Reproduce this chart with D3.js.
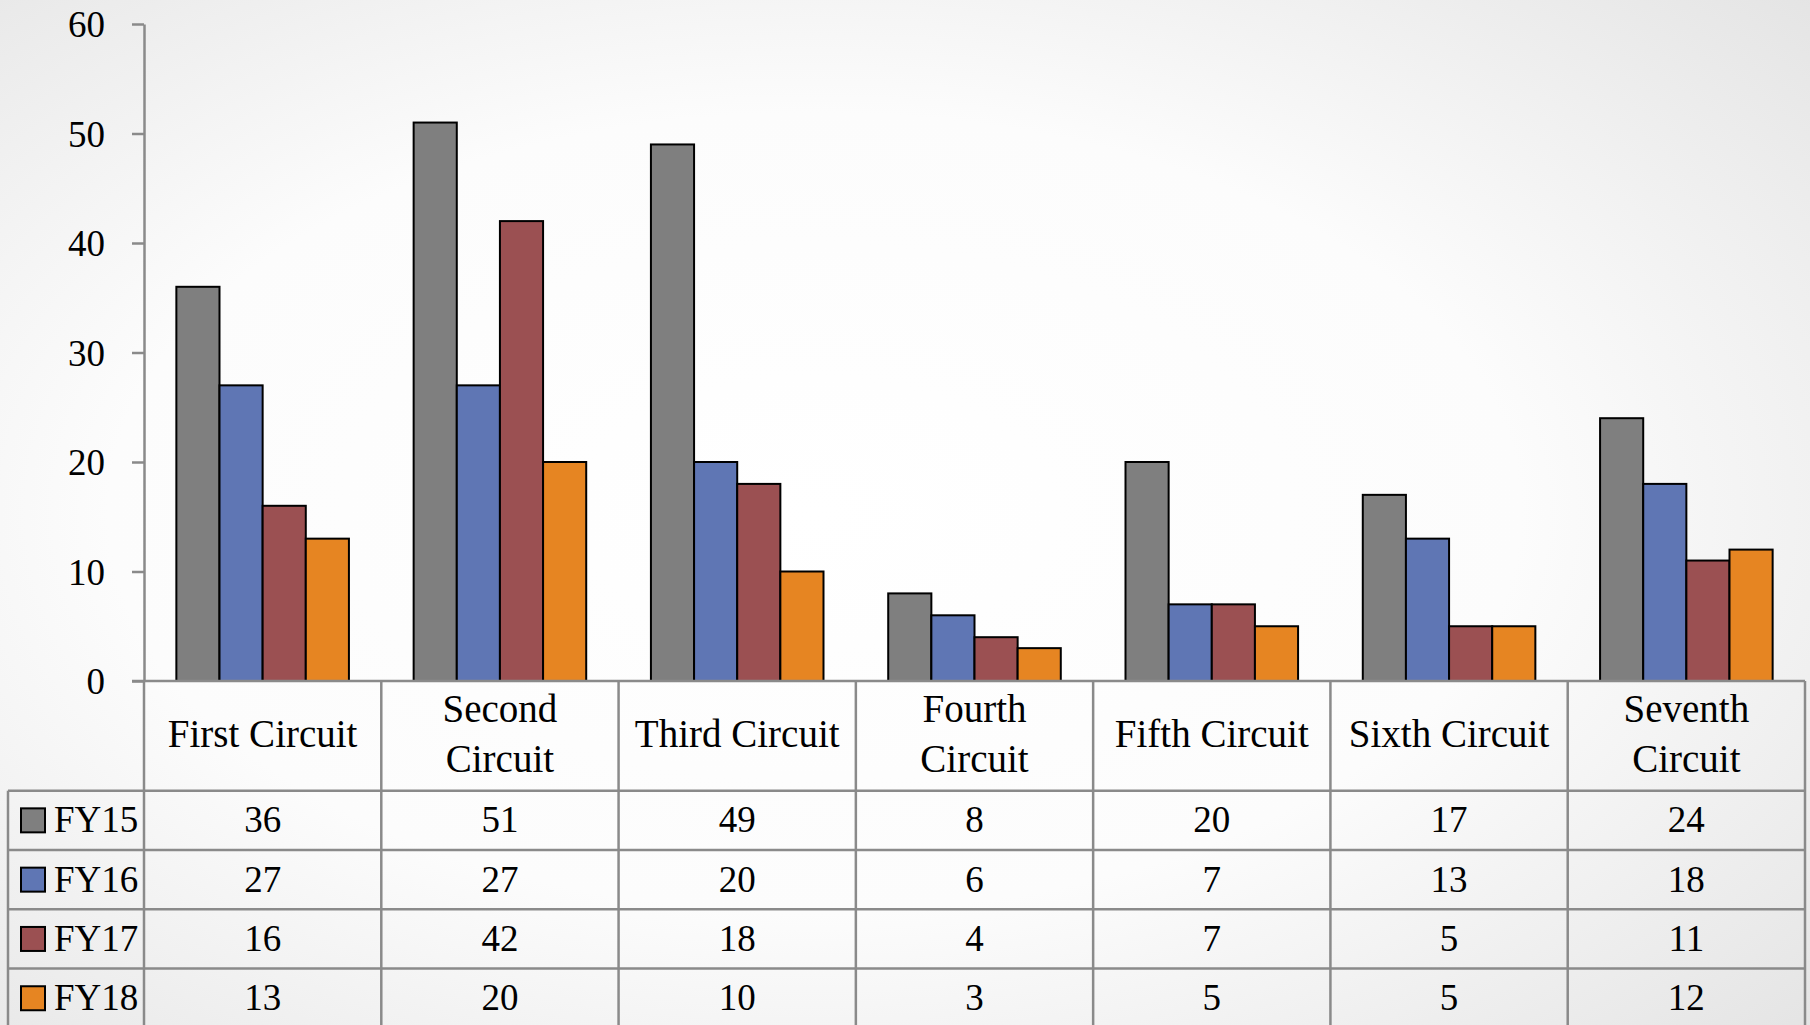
<!DOCTYPE html>
<html>
<head>
<meta charset="utf-8">
<script src="https://cdn.jsdelivr.net/npm/d3@7.9.0/dist/d3.min.js"></script>
<style>
  html, body { margin: 0; padding: 0; overflow: hidden; }
  svg { display: block; font-family: "Liberation Serif", "DejaVu Serif", serif; }
</style>
</head>
<body>
<div id="chart"></div>
<script>
// --- data ---
const categories = ['First Circuit', 'Second Circuit', 'Third Circuit', 'Fourth Circuit',
  'Fifth Circuit', 'Sixth Circuit', 'Seventh Circuit'];
// header text as it wraps in the table
const categoryLines = [
  ['First Circuit'], ['Second', 'Circuit'], ['Third Circuit'], ['Fourth', 'Circuit'],
  ['Fifth Circuit'], ['Sixth Circuit'], ['Seventh', 'Circuit'],
];
const seriesNames = ['FY15', 'FY16', 'FY17', 'FY18'];
const fy15 = [36, 51, 49, 8, 20, 17, 24];
const fy16 = [27, 27, 20, 6, 7, 13, 18];
const fy17 = [16, 42, 18, 4, 7, 5, 11];
const fy18 = [13, 20, 10, 3, 5, 5, 12];
const yTicks = [0, 10, 20, 30, 40, 50, 60];
const seriesColors = ['#7f7f7f', '#5f76b4', '#9b5052', '#e68522'];

const seriesValues = [fy15, fy16, fy17, fy18];

// --- layout ---
const width = 1810;
const height = 1025;
const plot = { left: 144, right: 1805, top: 24, bottom: 681 };
const rowH = 59.3;
const headerBottom = 790.7;
const legendLeft = 8;
const fontSize = 37;
const headerSize = 39;
const gridColor = '#8a8a8a';

const svg = d3.select('#chart')
  .append('svg')
  .attr('width', width)
  .attr('height', height);

// soft grey radial background
const defs = svg.append('defs');
const grad = defs.append('radialGradient')
  .attr('id', 'bg')
  .attr('cx', '45%').attr('cy', '50%').attr('r', '78%');
grad.append('stop').attr('offset', '0%').attr('stop-color', '#ffffff');
grad.append('stop').attr('offset', '50%').attr('stop-color', '#fcfcfc');
grad.append('stop').attr('offset', '100%').attr('stop-color', '#e2e2e2');
svg.append('rect').attr('width', width).attr('height', height).attr('fill', 'url(#bg)');

// --- scales ---
const xScale = d3.scaleBand()
  .domain(categories)
  .range([plot.left, plot.right])
  .paddingInner(0)
  .paddingOuter(0);

const xInner = d3.scaleBand()
  .domain(seriesNames)
  .range([0, xScale.bandwidth()])
  .paddingInner(0)
  .paddingOuter(0.75);

const yScale = d3.scaleLinear()
  .domain([0, 60])
  .range([plot.bottom, plot.top]);

// --- y axis ---
const yAxis = d3.axisLeft(yScale)
  .tickValues(yTicks)
  .tickSize(12)
  .tickPadding(27)
  .tickSizeOuter(0);

const yG = svg.append('g')
  .attr('transform', `translate(${plot.left}, 0)`)
  .call(yAxis);
yG.select('.domain').attr('stroke', gridColor).attr('stroke-width', 2.5);
yG.selectAll('.tick line').attr('stroke', gridColor).attr('stroke-width', 2.5);
yG.selectAll('.tick text')
  .attr('font-size', fontSize)
  .attr('font-family', '"Liberation Serif", serif')
  .attr('fill', '#000')
  .attr('dy', '0.34em');

// --- bars ---
const barData = categories.flatMap((c, i) =>
  seriesNames.map((s, j) => ({ cat: c, series: s, value: seriesValues[j][i], color: seriesColors[j] })));

svg.append('g')
  .attr('class', 'bars')
  .selectAll('rect')
  .data(barData)
  .join('rect')
  .attr('x', (d) => xScale(d.cat) + xInner(d.series))
  .attr('y', (d) => yScale(d.value))
  .attr('width', xInner.bandwidth())
  .attr('height', (d) => yScale(0) - yScale(d.value))
  .attr('fill', (d) => d.color)
  .attr('stroke', '#000')
  .attr('stroke-width', 2);

// --- data table under the plot ---
const table = svg.append('g').attr('class', 'table')
  .attr('stroke', gridColor).attr('stroke-width', 2.5);

const tableBottom = headerBottom + rowH * seriesNames.length;

// zero line / header top
table.append('line')
  .attr('x1', plot.left - 12).attr('x2', plot.right)
  .attr('y1', plot.bottom).attr('y2', plot.bottom);

// horizontal row lines
d3.range(seriesNames.length + 1).forEach((i) => {
  const y = headerBottom + rowH * i;
  table.append('line')
    .attr('x1', legendLeft).attr('x2', plot.right)
    .attr('y1', y).attr('y2', y);
});

// vertical lines at category boundaries
categories.forEach((c) => {
  table.append('line')
    .attr('x1', xScale(c)).attr('x2', xScale(c))
    .attr('y1', plot.bottom).attr('y2', tableBottom);
});
table.append('line')
  .attr('x1', plot.right).attr('x2', plot.right)
  .attr('y1', plot.bottom).attr('y2', tableBottom);
table.append('line')
  .attr('x1', legendLeft).attr('x2', legendLeft)
  .attr('y1', headerBottom).attr('y2', tableBottom);

// header labels
const headerMid = (plot.bottom + headerBottom) / 2;
const lineGap = 50;
const header = svg.append('g')
  .attr('font-size', headerSize)
  .attr('text-anchor', 'middle')
  .attr('fill', '#000');

categories.forEach((c, i) => {
  const lines = categoryLines[i];
  const cx = xScale(c) + xScale.bandwidth() / 2;
  const first = headerMid - ((lines.length - 1) * lineGap) / 2 + 11;
  lines.forEach((ln, k) => {
    header.append('text')
      .attr('x', cx)
      .attr('y', first + k * lineGap)
      .text(ln);
  });
});

// value cells
const cells = svg.append('g')
  .attr('font-size', fontSize)
  .attr('text-anchor', 'middle')
  .attr('fill', '#000');

seriesNames.forEach((s, j) => {
  const yBase = headerBottom + rowH * j + rowH / 2 + 12;
  categories.forEach((c, i) => {
    cells.append('text')
      .attr('x', xScale(c) + xScale.bandwidth() / 2)
      .attr('y', yBase)
      .text(seriesValues[j][i]);
  });
});

// legend keys in the first column
const legend = svg.append('g').attr('font-size', fontSize).attr('fill', '#000');
seriesNames.forEach((s, j) => {
  const mid = headerBottom + rowH * j + rowH / 2;
  legend.append('rect')
    .attr('x', 21).attr('y', mid - 12)
    .attr('width', 24).attr('height', 24)
    .attr('fill', seriesColors[j])
    .attr('stroke', '#000')
    .attr('stroke-width', 2);
  legend.append('text')
    .attr('x', 54)
    .attr('y', mid + 12)
    .text(s);
});
</script>
</body>
</html>
